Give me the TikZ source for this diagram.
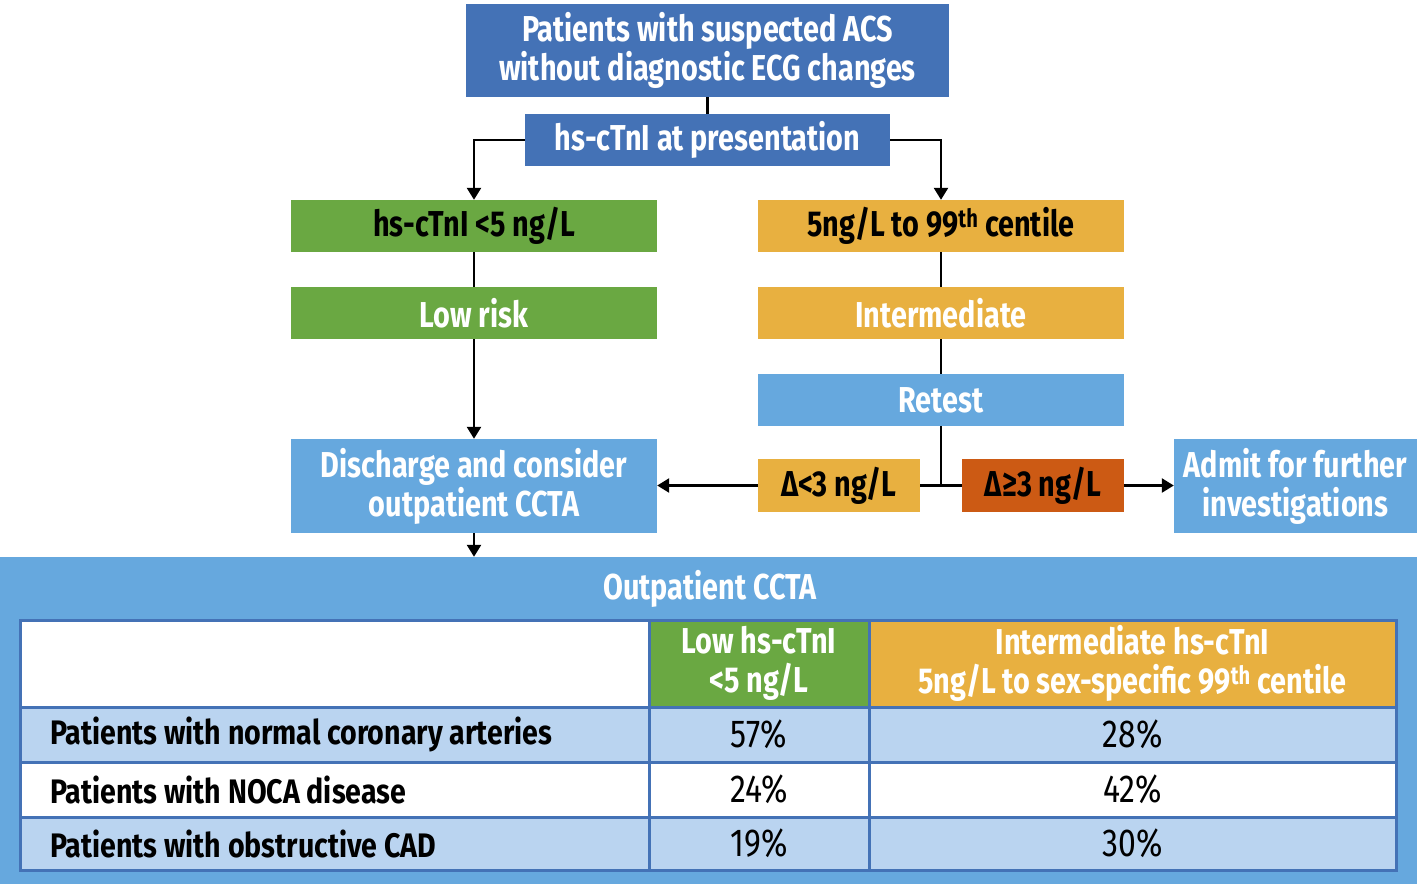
\documentclass[tikz,border=0pt]{standalone}
\usepackage{fontspec}
\setmainfont{Fira Sans}[FakeStretch=0.8]
\newfontfamily\labfont{Fira Sans}[FakeStretch=0.84]
\newfontfamily\pctfont{Fira Sans}[FakeStretch=0.82]
\usetikzlibrary{arrows.meta}
\definecolor{dblue}{RGB}{68,114,182}
\definecolor{lblue}{RGB}{102,168,222}
\definecolor{fgreen}{RGB}{106,168,66}
\definecolor{forange}{RGB}{232,176,64}
\definecolor{dorange}{RGB}{204,90,20}
\definecolor{tlight}{RGB}{186,212,240}
\tikzset{
  fbox/.style={minimum width=366pt, minimum height=52pt, inner sep=0pt, align=center,
    font=\bfseries\fontsize{36}{39}\selectfont, text=white},
  conn/.style={line width=2.5pt, black},
  arr/.style={conn, -{Triangle[width=14pt,length=12pt]}},
  cell/.style={draw=dblue, line width=3pt, inner sep=0pt, align=center},
  hdr/.style={font=\bfseries\fontsize{36}{39}\selectfont, text=white},
  lab/.style={font=\labfont\bfseries\fontsize{34}{38}\selectfont, text=black, inner sep=0pt},
  pct/.style={font=\pctfont\fontsize{39}{42}\selectfont, text=black}
}
\begin{document}
\begin{tikzpicture}[x=1pt,y=-1pt]
\useasboundingbox (0,0) rectangle (1417,884);
% flow boxes
\node[fbox, fill=dblue, minimum width=483pt, minimum height=93pt] (top) at (707.5,50.5) {Patients with suspected ACS\\without diagnostic ECG changes};
\node[fbox, fill=dblue, minimum width=365pt] (hs) at (707.5,140) {hs-cTnI at presentation};
\node[fbox, fill=fgreen, text=black] (g1) at (474,226) {hs-cTnI <5 ng/L};
\node[fbox, fill=fgreen] (g2) at (474,313) {Low risk};
\node[fbox, fill=lblue, minimum height=94pt] (dis) at (474,486) {Discharge and consider\\outpatient CCTA};
\node[fbox, fill=forange, text=black] (o1) at (941,226) {5ng/L to 99\textsuperscript{th} centile};
\node[fbox, fill=forange] (o2) at (941,313) {Intermediate};
\node[fbox, fill=lblue] (ret) at (941,400) {Retest};
\node[fbox, fill=forange, text=black, minimum width=162pt, minimum height=53pt] (dlt) at (839,485.5) {Δ<3 ng/L};
\node[fbox, fill=dorange, text=black, minimum width=162pt, minimum height=53pt] (dge) at (1043,485.5) {Δ≥3 ng/L};
\node[fbox, fill=lblue, minimum width=243pt, minimum height=94pt] (adm) at (1295.5,486) {Admit for further\\investigations};
\coordinate (j) at (941,485.5);
% connectors
\draw[conn] (top) -- (hs);
\draw[arr] (hs.west) -| (g1.north);
\draw[arr] (hs.east) -| (o1.north);
\draw[conn] (g1) -- (g2);
\draw[arr] (g2) -- (dis);
\draw[conn] (o1) -- (o2);
\draw[conn] (o2) -- (ret);
\draw[conn] (ret) -- (j);
\draw[conn] (dlt.east) -- (dge.west);
\draw[arr] (dlt.west) -- (dis.east |- dlt.west);
\draw[arr] (dge.east) -- (adm.west |- dge.east);
% panel
\node[fill=lblue, minimum width=1417pt, minimum height=327pt, inner sep=0pt] (panel) at (708.5,720.5) {};
\draw[arr] (dis.south) -- (dis.south |- panel.north);
\node[hdr] (title) at (710,589) {Outpatient CCTA};
% table
\node[cell, fill=white, minimum width=629pt, minimum height=87pt] (h1) at (334.5,663.5) {};
\node[cell, fill=fgreen, minimum width=220pt, minimum height=87pt, hdr] (h2) at (759,663.5) {Low hs-cTnI\\<5 ng/L};
\node[cell, fill=forange, minimum width=527pt, minimum height=87pt, hdr] (h3) at (1132.5,663.5) {Intermediate hs-cTnI\\5ng/L to sex-specific 99\textsuperscript{th} centile};
\node[cell, fill=tlight, minimum width=629pt, minimum height=55pt] (r1a) at (334.5,734.5) {};
\node[cell, fill=tlight, minimum width=220pt, minimum height=55pt, pct] (r1b) at (759,734.5) {57\%};
\node[cell, fill=tlight, minimum width=527pt, minimum height=55pt, pct] (r1c) at (1132.5,734.5) {28\%};
\node[cell, fill=white, minimum width=629pt, minimum height=55pt] (r2a) at (334.5,789.5) {};
\node[cell, fill=white, minimum width=220pt, minimum height=55pt, pct] (r2b) at (759,789.5) {24\%};
\node[cell, fill=white, minimum width=527pt, minimum height=55pt, pct] (r2c) at (1132.5,789.5) {42\%};
\node[cell, fill=tlight, minimum width=629pt, minimum height=53pt] (r3a) at (334.5,843.5) {};
\node[cell, fill=tlight, minimum width=220pt, minimum height=53pt, pct] (r3b) at (759,843.5) {19\%};
\node[cell, fill=tlight, minimum width=527pt, minimum height=53pt, pct] (r3c) at (1132.5,843.5) {30\%};
\node[lab, anchor=west] (l1) at (50,734.5) {Patients with normal coronary arteries};
\node[lab, anchor=west] (l2) at (50,789.5) {Patients with NOCA disease};
\node[lab, anchor=west] (l3) at (50,843.5) {Patients with obstructive CAD};
\end{tikzpicture}
\end{document}
